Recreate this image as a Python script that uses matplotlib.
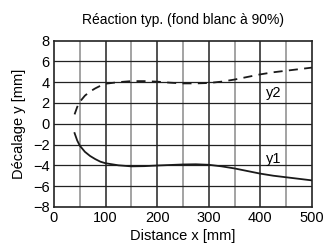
import matplotlib
matplotlib.use("Agg")
import matplotlib.pyplot as plt
from matplotlib import font_manager

names = {f.name for f in font_manager.fontManager.ttflist}
fam = "Liberation Sans Narrow" if "Liberation Sans Narrow" in names else "Liberation Sans"
plt.rcParams['font.family'] = [fam, 'DejaVu Sans']

# valeurs
x = [40, 45, 50, 60, 70, 80, 90, 100, 125, 150, 175, 200, 225, 250, 275, 300, 325, 350, 375, 400, 425, 450, 475, 500]
y1 = [-0.9, -1.6, -2.1, -2.7, -3.1, -3.4, -3.65, -3.8, -4.0, -4.1, -4.08, -4.02, -3.97, -3.92, -3.9, -3.95, -4.1, -4.3, -4.55, -4.8, -5.0, -5.15, -5.3, -5.45]
y2 = [0.9, 1.6, 2.1, 2.7, 3.1, 3.4, 3.65, 3.85, 4.0, 4.1, 4.1, 4.05, 3.95, 3.88, 3.88, 3.92, 4.05, 4.25, 4.5, 4.75, 4.95, 5.1, 5.25, 5.4]

fig = plt.figure(figsize=(3.35, 2.46), dpi=100)
ax = fig.add_axes([0.161, 0.159, 0.770, 0.676])

for xv in range(50, 500, 50):
    ax.axvline(xv, color='#8a8a8a' if xv % 100 else '#222222', lw=1.1, zorder=1)
for yv in range(-6, 8, 2):
    ax.axhline(yv, color='#222222', lw=0.9, zorder=1)

ax.plot(x, y1, color='#1a1a1a', lw=1.3, zorder=3)
ax.plot(x, y2, color='#1a1a1a', lw=1.3, ls=(0, (5, 3.5)), zorder=3)

ax.text(425, -3.4, 'y1', fontsize=10.5, ha='center', va='center')
ax.text(425, 3.0, 'y2', fontsize=10.5, ha='center', va='center')

ax.set_xlim(0, 500)
ax.set_ylim(-8, 8)
ax.set_xticks(range(0, 501, 100))
ax.set_yticks(range(-8, 9, 2))
ax.tick_params(length=0, labelsize=10.5, pad=3)
for s in ax.spines.values():
    s.set_linewidth(1.2)
    s.set_color('#222222')

ax.set_xlabel('Distance x [mm]', fontsize=10.5, labelpad=3)
ax.set_ylabel('Décalage y [mm]', fontsize=10.5, labelpad=5)
ax.set_title('Réaction typ. (fond blanc à 90%)', fontsize=10, pad=12)

fig.savefig('out.png', dpi=100)
